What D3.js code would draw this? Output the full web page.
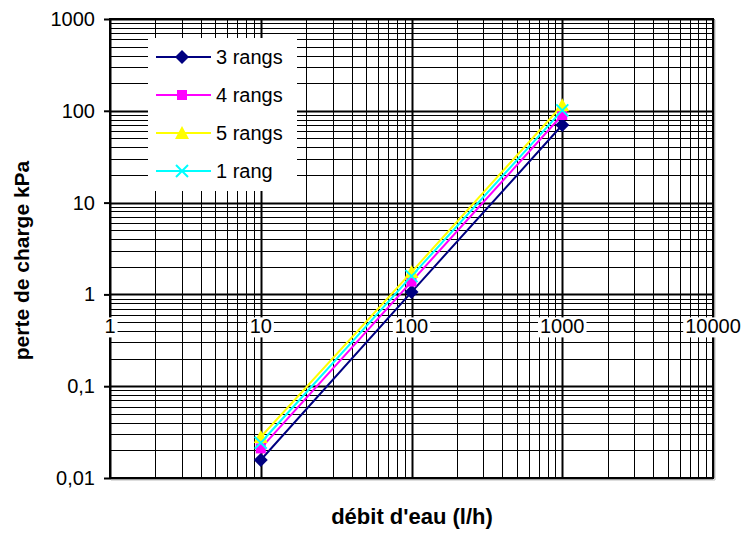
<!DOCTYPE html>
<html>
<head>
<meta charset="utf-8">
<script src="https://cdn.jsdelivr.net/npm/d3@7"></script>
<style>
  body { margin: 0; background: #fff; }
  text { font-family: "Liberation Sans", Arial, sans-serif; }
</style>
</head>
<body>
<div id="chart"></div>
<script>
// data
var debit = [10, 100, 1000];
var perte3 = [0.0157, 1.06, 70];
var perte4 = [0.021, 1.38, 90];
var perte5 = [0.028, 1.75, 115];
var perte1 = [0.0242, 1.58, 101];
var seriesNames = ["3 rangs", "4 rangs", "5 rangs", "1 rang"];
var xTickValues = [1, 10, 100, 1000, 10000];
var xTickLabels = ["1", "10", "100", "1000", "10000"];
var yTickValues = [0.01, 0.1, 1, 10, 100, 1000];
var yTickLabels = ["0,01", "0,1", "1", "10", "100", "1000"];

var colors = ["#000080", "#ff00ff", "#ffff00", "#00ffff"];
var markers = ["diamond", "square", "triangle", "cross"];

var totalWidth = 745, totalHeight = 535;
var margin = { top: 19, right: 32, bottom: 57, left: 110 };
var width = totalWidth - margin.left - margin.right;
var height = totalHeight - margin.top - margin.bottom;

var svg = d3.select("#chart").append("svg")
  .attr("width", totalWidth)
  .attr("height", totalHeight);

var g = svg.append("g")
  .attr("transform", "translate(" + margin.left + "," + margin.top + ")");

var x = d3.scaleLog().domain([1, 10000]).range([0, width]);
var y = d3.scaleLog().domain([0.01, 1000]).range([height, 0]);

// grid
var isMajor = function(v) { return Math.abs(Math.log10(v) - Math.round(Math.log10(v))) < 1e-9; };

g.selectAll(".xgrid").data(x.ticks()).enter().append("line")
  .attr("class", "xgrid")
  .attr("x1", d => Math.round(x(d)) + 0.5).attr("x2", d => Math.round(x(d)) + 0.5)
  .attr("y1", 0).attr("y2", height)
  .attr("stroke", "#000")
  .attr("stroke-width", d => isMajor(d) ? 2 : 1);

g.selectAll(".ygrid").data(y.ticks()).enter().append("line")
  .attr("class", "ygrid")
  .attr("y1", d => Math.round(y(d)) + 0.5).attr("y2", d => Math.round(y(d)) + 0.5)
  .attr("x1", 0).attr("x2", width)
  .attr("stroke", "#000")
  .attr("stroke-width", d => isMajor(d) ? 2 : 1);

// plot border
g.append("rect")
  .attr("x", 0).attr("y", 0).attr("width", width).attr("height", height)
  .attr("fill", "none").attr("stroke", "#000").attr("stroke-width", 2);
g.append("line")
  .attr("x1", width + 2).attr("x2", width + 2).attr("y1", 1).attr("y2", height + 2)
  .attr("stroke", "#bbb").attr("stroke-width", 1);
g.append("line")
  .attr("x1", 1).attr("x2", width + 2).attr("y1", height + 2).attr("y2", height + 2)
  .attr("stroke", "#bbb").attr("stroke-width", 1);

// y axis
var yAxis = d3.axisLeft(y)
  .tickValues(yTickValues)
  .tickSize(6)
  .tickPadding(9)
  .tickFormat((d, i) => yTickLabels[i]);
var yAx = g.append("g").call(yAxis);
yAx.select(".domain").remove();
yAx.selectAll(".tick line").attr("stroke", "#000").attr("stroke-width", 2);
yAx.selectAll(".tick text")
  .attr("font-size", "20px")
  .attr("fill", "#000")
  .style("font-family", "'Liberation Sans', Arial, sans-serif");

// x labels sitting under the y=1 line with white background
var xLab = g.append("g").attr("transform", "translate(0," + (y(1) + 32) + ")");
var xt = xLab.selectAll("g").data(xTickValues).enter().append("g")
  .attr("transform", d => "translate(" + x(d) + ",0)");
xt.append("rect").attr("fill", "#fff");
xt.append("text")
  .attr("text-anchor", "middle")
  .attr("dy", "0.35em")
  .attr("font-size", "20px")
  .attr("fill", "#000")
  .text((d, i) => xTickLabels[i]);
xt.each(function() {
  var bb = d3.select(this).select("text").node().getBBox();
  d3.select(this).select("rect")
    .attr("x", bb.x - 2).attr("y", bb.y + 2)
    .attr("width", bb.width + 4).attr("height", bb.height - 2);
});

// series
var seriesData = [perte3, perte4, perte5, perte1].map((vals, i) => ({
  name: seriesNames[i], color: colors[i], marker: markers[i],
  values: debit.map((d, j) => ({ x: d, y: vals[j] }))
}));

var line = d3.line().x(d => x(d.x)).y(d => y(d.y));

function drawMarker(sel, type, color) {
  if (type === "diamond") {
    sel.append("path").attr("d", "M0,-7L7,0L0,7L-7,0Z").attr("fill", color);
  } else if (type === "square") {
    sel.append("rect").attr("x", -5).attr("y", -5).attr("width", 10).attr("height", 10).attr("fill", color);
  } else if (type === "triangle") {
    sel.append("path").attr("d", "M0,-7L7,6L-7,6Z").attr("fill", color);
  } else {
    sel.append("path").attr("d", "M-6,-6L6,6M-6,6L6,-6")
      .attr("stroke", color).attr("stroke-width", 2).attr("fill", "none");
  }
}

seriesData.forEach(s => {
  g.append("path").datum(s.values)
    .attr("d", line)
    .attr("fill", "none")
    .attr("stroke", s.color)
    .attr("stroke-width", 2);
});
seriesData.forEach(s => {
  g.selectAll(null).data(s.values).enter().append("g")
    .attr("transform", d => "translate(" + x(d.x) + "," + y(d.y) + ")")
    .each(function() { drawMarker(d3.select(this), s.marker, s.color); });
});

// legend
var legend = svg.append("g").attr("transform", "translate(148,38)");
legend.append("rect").attr("width", 149).attr("height", 153).attr("fill", "#fff");
var li = legend.selectAll(".li").data(seriesData).enter().append("g")
  .attr("class", "li")
  .attr("transform", (d, i) => "translate(0," + (19 + i * 38) + ")");
li.append("line").attr("x1", 8).attr("x2", 63)
  .attr("stroke", d => d.color).attr("stroke-width", 2);
li.append("g").attr("transform", "translate(34,0)")
  .each(function(d) { drawMarker(d3.select(this), d.marker, d.color); });
li.append("text")
  .attr("x", 68).attr("dy", "0.35em")
  .attr("font-size", "20px")
  .attr("fill", "#000")
  .text(d => d.name);

// axis titles
svg.append("text")
  .attr("x", 412).attr("y", 524)
  .attr("text-anchor", "middle")
  .attr("font-size", "22px").attr("font-weight", "bold")
  .text("débit d'eau (l/h)");

svg.append("text")
  .attr("transform", "translate(29," + (margin.top + height / 2 + 12) + ") rotate(-90)")
  .attr("text-anchor", "middle")
  .attr("font-size", "21px").attr("font-weight", "bold")
  .text("perte de charge kPa");
</script>
</body>
</html>
